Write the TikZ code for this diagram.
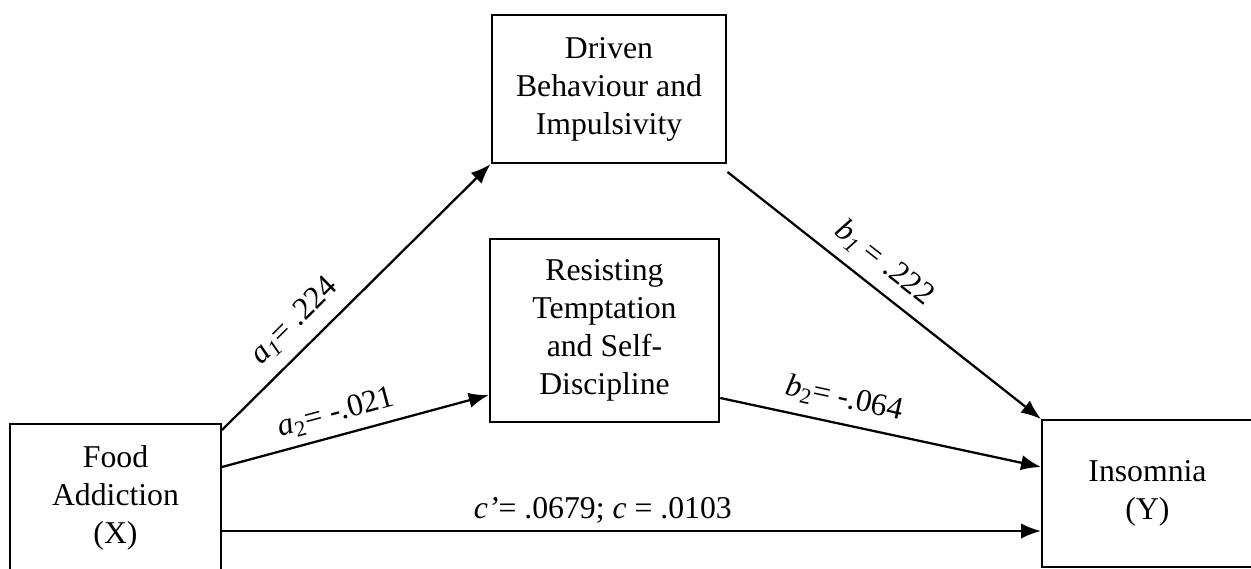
\documentclass[tikz,border=0pt]{standalone}
\usepackage{fontspec}
\setmainfont{Liberation Serif}
\usetikzlibrary{arrows.meta,calc}
\begin{document}
\begin{tikzpicture}[x=0.75pt,y=-0.75pt,
  box/.style={draw,line width=1.7pt,align=center,inner sep=0pt,
    font=\fontsize{23.8}{28.5}\selectfont},
  conn/.style={line width=1.7pt,-{Latex[length=15pt,width=11.5pt]}},
  lab/.style={sloped,inner sep=0pt,font=\fontsize{23.8}{28.5}\selectfont}]
\useasboundingbox (0,0) rectangle (1251,568);
\clip (0,0) rectangle (1251,568);
\fill[white] (0,0) rectangle (1251,568);
% boxes
\node[box,minimum width=176pt,minimum height=111pt] (top) at (609,89)
  {Driven\\Behaviour and\\Impulsivity};
\node[box,minimum width=172pt,minimum height=137pt] (mid) at (604.5,330.5)
  {Resisting\\Temptation\\and Self-\\Discipline};
\node[box,minimum width=158pt,minimum height=111pt] (food) at (115.5,498)
  {Food\\Addiction\\(X)};
\node[box,minimum width=158pt,minimum height=110pt] (ins) at (1147.5,493.5)
  {Insomnia\\(Y)};
% level coordinates
\coordinate (ya1) at (0,430);
\coordinate (ya2) at (0,467);
\coordinate (yc) at (0,531);
\coordinate (ya2e) at (0,395);
\coordinate (yb1) at (0,172);
\coordinate (yb2) at (0,398);
\coordinate (yb2e) at (0,467);
% connectors
\draw[conn] (food.east |- ya1) -- node[lab,above=9pt,pos=0.34]
  {\textit{a}\textsubscript{\textit{1}}= .224} (top.south west);
\draw[conn] (food.east |- ya2) -- node[lab,above=6pt,pos=0.45]
  {\textit{a}\textsubscript{2}= -.021} (mid.west |- ya2e);
\draw[conn] (top.south east |- yb1) -- node[lab,above=8pt,pos=0.45]
  {\textit{b}\textsubscript{\textit{1}} = .222} (ins.north west);
\draw[conn] (mid.east |- yb2) -- node[lab,above=8pt,pos=0.37]
  {\textit{b}\textsubscript{2}= -.064} (ins.west |- yb2e);
\draw[conn] (food.east |- yc) -- node[lab,above=5pt,pos=0.465]
  {\textit{c’}= .0679; \textit{c} = .0103} (ins.west |- yc);
\end{tikzpicture}
\end{document}
